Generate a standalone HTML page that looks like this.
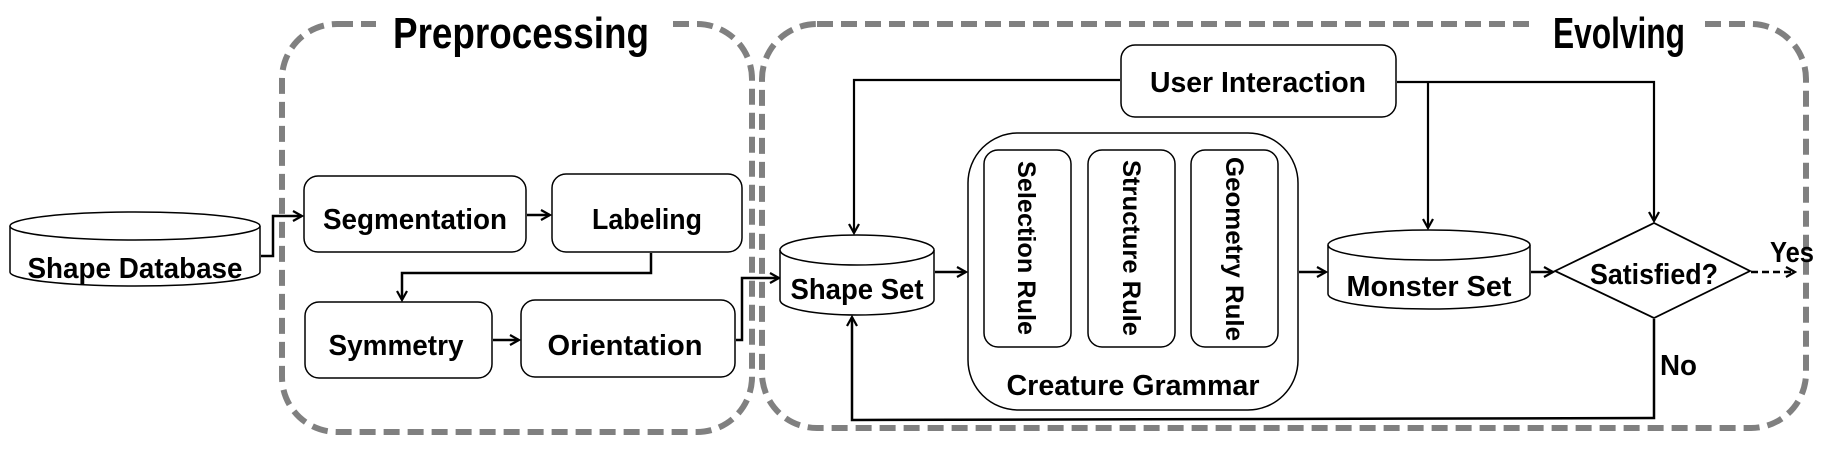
<!DOCTYPE html>
<html><head><meta charset="utf-8"><style>
html,body{margin:0;padding:0;background:#fff;}
svg{display:block;}
text{font-family:"Liberation Sans",sans-serif;font-weight:bold;fill:#000;}
</style></head><body>
<svg width="1831" height="450" viewBox="0 0 1831 450" xmlns="http://www.w3.org/2000/svg">
<defs>
<marker id="a" markerWidth="12" markerHeight="12" refX="10" refY="6" orient="auto" markerUnits="userSpaceOnUse">
<path d="M1,1 L10,6 L1,11" fill="none" stroke="#000" stroke-width="2.2"/>
</marker>
</defs>
<rect x="282" y="24" width="470" height="408" rx="55" fill="none" stroke="#808080" stroke-width="6" stroke-dasharray="16,8"/>
<rect x="762" y="24" width="1044" height="404" rx="55" fill="none" stroke="#808080" stroke-width="6" stroke-dasharray="16,8"/>
<rect x="376" y="6" width="290" height="52" fill="#fff"/>
<rect x="1536" y="6" width="166" height="52" fill="#fff"/>
<text x="521" y="48" font-size="44" text-anchor="middle" textLength="256" lengthAdjust="spacingAndGlyphs">Preprocessing</text>
<text x="1619" y="48" font-size="44" text-anchor="middle" textLength="132" lengthAdjust="spacingAndGlyphs">Evolving</text>

<path d="M10,226 L10,272 A125,14 0 0 0 260,272 L260,226" fill="#fff" stroke="#000" stroke-width="1.5"/>
<ellipse cx="135" cy="226" rx="125" ry="14" fill="#fff" stroke="#000" stroke-width="1.5"/>
<text x="135" y="278" font-size="29" text-anchor="middle" textLength="215" lengthAdjust="spacingAndGlyphs">Shape Database</text>

<g fill="#fff" stroke="#000" stroke-width="1.5">
<rect x="304" y="176" width="222" height="76" rx="14"/>
<rect x="552" y="174" width="190" height="78" rx="14"/>
<rect x="305" y="302" width="187" height="76" rx="14"/>
<rect x="521" y="300" width="214" height="77" rx="14"/>
</g>
<text x="415" y="229" font-size="29" text-anchor="middle" textLength="184" lengthAdjust="spacingAndGlyphs">Segmentation</text>
<text x="647" y="229" font-size="29" text-anchor="middle" textLength="110" lengthAdjust="spacingAndGlyphs">Labeling</text>
<text x="396" y="355" font-size="29" text-anchor="middle" textLength="135" lengthAdjust="spacingAndGlyphs">Symmetry</text>
<text x="625" y="355" font-size="29" text-anchor="middle" textLength="155" lengthAdjust="spacingAndGlyphs">Orientation</text>

<g fill="none" stroke="#000" stroke-width="2.5">
<path d="M261,256 L273,256 L273,216 L302,216" marker-end="url(#a)"/>
<path d="M527,215 L550,215" marker-end="url(#a)"/>
<path d="M651,253 L651,273 L402,273 L402,300" marker-end="url(#a)"/>
<path d="M493,340 L519,340" marker-end="url(#a)"/>
<path d="M736,340 L742,340 L742,278 L779,278" marker-end="url(#a)"/>
</g>

<path d="M780,250 L780,300 A77,15 0 0 0 934,300 L934,250" fill="#fff" stroke="#000" stroke-width="1.5"/>
<ellipse cx="857" cy="250" rx="77" ry="15" fill="#fff" stroke="#000" stroke-width="1.5"/>
<text x="857" y="299" font-size="29" text-anchor="middle" textLength="133" lengthAdjust="spacingAndGlyphs">Shape Set</text>

<rect x="968" y="133" width="330" height="277" rx="50" fill="#fff" stroke="#000" stroke-width="1.5"/>
<g fill="#fff" stroke="#000" stroke-width="1.5">
<rect x="984" y="150" width="87" height="197" rx="14"/>
<rect x="1088" y="150" width="87" height="197" rx="14"/>
<rect x="1191" y="150" width="87" height="197" rx="14"/>
</g>
<text transform="translate(1018,161) rotate(90)" font-size="25" textLength="174" lengthAdjust="spacingAndGlyphs" font-family="DejaVu Sans">Selection Rule</text>
<text transform="translate(1123,160) rotate(90)" font-size="25" textLength="176" lengthAdjust="spacingAndGlyphs" font-family="DejaVu Sans">Structure Rule</text>
<text transform="translate(1226,157) rotate(90)" font-size="25" textLength="184" lengthAdjust="spacingAndGlyphs" font-family="DejaVu Sans">Geometry Rule</text>
<text x="1133" y="395" font-size="29" text-anchor="middle" textLength="253" lengthAdjust="spacingAndGlyphs">Creature Grammar</text>

<rect x="1121" y="45" width="275" height="72" rx="14" fill="#fff" stroke="#000" stroke-width="1.5"/>
<text x="1258" y="92" font-size="29" text-anchor="middle" textLength="216" lengthAdjust="spacingAndGlyphs">User Interaction</text>

<path d="M1328,245 L1328,294 A101,15 0 0 0 1530,294 L1530,245" fill="#fff" stroke="#000" stroke-width="1.5"/>
<ellipse cx="1429" cy="245" rx="101" ry="15" fill="#fff" stroke="#000" stroke-width="1.5"/>
<text x="1429" y="296" font-size="29" text-anchor="middle" textLength="165" lengthAdjust="spacingAndGlyphs">Monster Set</text>

<polygon points="1555,271 1654,223 1750,271 1654,318" fill="#fff" stroke="#000" stroke-width="1.8"/>
<text x="1654" y="284" font-size="29" text-anchor="middle" textLength="128" lengthAdjust="spacingAndGlyphs">Satisfied?</text>
<text x="1770" y="262" font-size="29" textLength="44" lengthAdjust="spacingAndGlyphs">Yes</text>
<text x="1660" y="375" font-size="29" textLength="37" lengthAdjust="spacingAndGlyphs">No</text>

<g fill="none" stroke="#000" stroke-width="2.5">
<path d="M935,272 L966,272" marker-end="url(#a)"/>
<path d="M1299,272 L1326,272" marker-end="url(#a)"/>
<path d="M1531,272 L1553,272" marker-end="url(#a)"/>
<path d="M1751,272 L1795,272" stroke-dasharray="7,4" marker-end="url(#a)"/>
<path d="M1120,80 L854,80 L854,233" stroke-width="2.2" marker-end="url(#a)"/>
<path d="M1397,82 L1654,82 L1654,221" stroke-width="2.2" marker-end="url(#a)"/>
<path d="M1428,82 L1428,228" stroke-width="2.2" marker-end="url(#a)"/>
<path d="M1654,319 L1654,418 L852,420 L852,317" marker-end="url(#a)"/>
</g>
</svg>
</body></html>
